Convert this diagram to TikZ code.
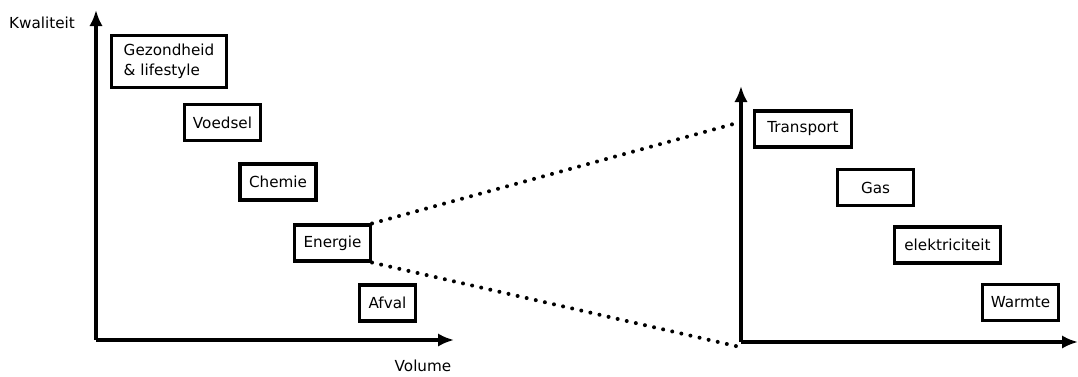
\documentclass[tikz,border=0pt]{standalone}
\usepackage{fontspec}
\setmainfont{DejaVu Sans}
\usetikzlibrary{arrows.meta}
\begin{document}
\begin{tikzpicture}[x=0.75pt,y=-0.75pt,
    font=\fontsize{11.4}{15}\selectfont,
    as/.style={line width=2.3pt,-{Latex[length=12pt,width=10pt]}},
    blok/.style={draw,line width=2.3pt,minimum width=57pt,minimum height=27pt,inner sep=2pt,align=left},
    stippel/.style={line width=3pt,dash pattern=on 0pt off 7pt,line cap=round}]
  \useasboundingbox (0,0) rectangle (1078,376);
  % linker assenstelsel
  \coordinate (o1) at (96,340);
  \coordinate (y1) at (96,10);
  \coordinate (x1) at (454,340);
  \draw[as] (o1) -- (y1);
  \draw[as] (o1) -- (x1);
  \node (kwal) at (42,23) {Kwaliteit};
  \node[inner sep=1pt] (vol) at (423,366) {Volume};
  \node[blok,minimum width=86pt,minimum height=39pt] (gez) at (169,61.5) {Gezondheid\\\& lifestyle};
  \node[blok] (voed) at (222.5,122.5) {Voedsel};
  \node[blok] (chem) at (278,182) {Chemie};
  \node[blok] (ener) at (332.5,243) {Energie};
  \node[blok,minimum width=42pt] (afv) at (387.5,303) {Afval};
  % rechter assenstelsel
  \coordinate (o2) at (741,342);
  \coordinate (y2) at (741,86);
  \coordinate (x2) at (1078,342);
  \draw[as] (o2) -- (y2);
  \draw[as] (o2) -- (x2);
  \node[blok,minimum width=73pt] (trans) at (803,129) {Transport};
  \node[blok] (gas) at (875.5,187.5) {Gas};
  \node[blok,minimum width=79.5pt] (elek) at (947.5,245) {elektriciteit};
  \node[blok] (warm) at (1020.5,302.5) {Warmte};
  % inzoomen op energie
  \coordinate (hoog) at (737,123);
  \coordinate (laag) at (740,347);
  \draw[stippel] (ener.north east) -- (hoog);
  \draw[stippel] (ener.south east) -- (laag);
\end{tikzpicture}
\end{document}
